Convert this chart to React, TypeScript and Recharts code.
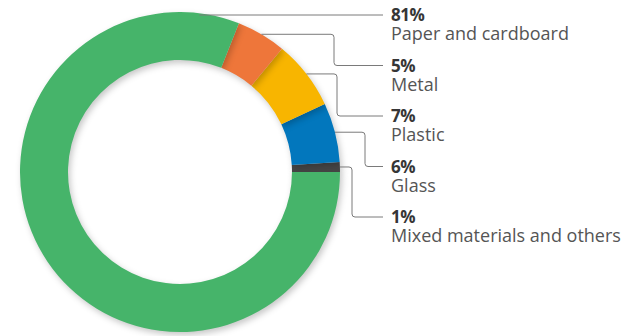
import React from 'react';
import { PieChart, Pie, Cell } from 'recharts';

// ---- data ----
const categories = ['Mixed materials and others', 'Glass', 'Plastic', 'Metal', 'Paper and cardboard'];
const shares = [1, 6, 7, 5, 81];
const percentLabels = ['1%', '6%', '7%', '5%', '81%'];
const colors = ['#474747', '#0277BD', '#F8B500', '#EE763A', '#46B46A'];

// ---- leader-line layout (annotation, not data) ----
const labelRow = [4, 3, 2, 1, 0];
const elbowX: (number | null)[] = [352, 365, 337, 334, null];
const anchorAngleOverride: (number | null)[] = [null, null, null, null, 83];
const LABEL_X = 391;
const LINE_END_X = 383;
const ROW_TOP = 15;
const ROW_GAP = 50.5;

const data = categories.map((name, i) => ({ name, value: shares[i] }));

const RAD = Math.PI / 180;

const renderLabel = (props: any) => {
  const { cx, cy, outerRadius, midAngle, index } = props;
  const ang = anchorAngleOverride[index] ?? midAngle;
  const sx = cx + outerRadius * Math.cos(ang * RAD);
  const sy = cy - outerRadius * Math.sin(ang * RAD);
  const rowY = ROW_TOP + labelRow[index] * ROW_GAP;
  const ex = elbowX[index];
  let d: string;
  const r = 3;
  if (ex == null) {
    d = `M${sx},${rowY} H${LINE_END_X}`;
  } else {
    d = `M${sx},${sy} H${ex - r} Q${ex},${sy} ${ex},${sy + r} V${rowY - r} Q${ex},${rowY} ${ex + r},${rowY} H${LINE_END_X}`;
  }
  return (
    <g key={`lbl-${index}`}>
      <path d={d} fill="none" stroke="#7a7a7a" strokeWidth={1} />
      <text x={LABEL_X} y={rowY + 6} fontFamily="Open Sans" fontWeight={700} fontSize={17} letterSpacing={-0.5} fill="#363636">
        {percentLabels[index]}
      </text>
      <text x={LABEL_X} y={rowY + 25} fontFamily="Open Sans" fontSize={18} fill="#555555">
        {categories[index]}
      </text>
    </g>
  );
};

export default function App() {
  return (
    <div style={{ width: 627, height: 336, background: '#ffffff' }}>
      <style>{`body{margin:0;} .recharts-pie-sector{filter: drop-shadow(2px 3px 3px rgba(0,0,0,0.22));}`}</style>
      <PieChart width={627} height={336} margin={{ top: 0, right: 0, bottom: 0, left: 0 }}>
        <Pie
          data={data}
          dataKey="value"
          nameKey="name"
          cx={180}
          cy={172}
          innerRadius={112}
          outerRadius={160}
          startAngle={0}
          endAngle={360}
          stroke="none"
          label={renderLabel}
          labelLine={false}
          isAnimationActive={false}
        >
          {data.map((d, i) => (
            <Cell key={d.name} fill={colors[i]} />
          ))}
        </Pie>
      </PieChart>
    </div>
  );
}
